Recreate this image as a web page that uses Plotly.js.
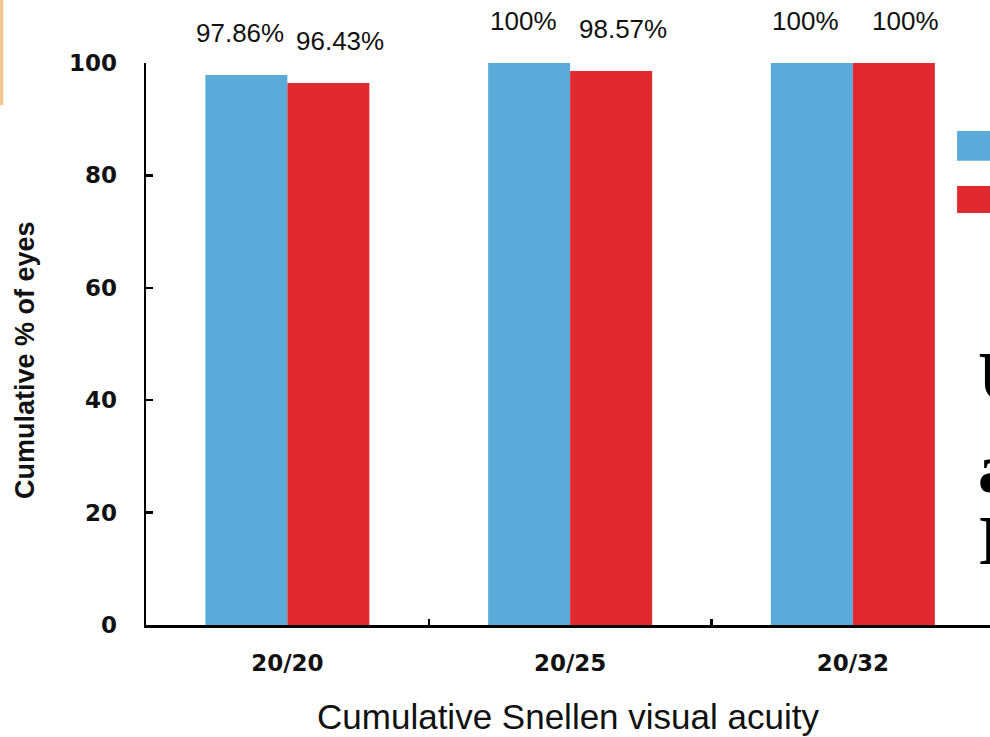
<!DOCTYPE html>
<html>
<head>
<meta charset="utf-8">
<script src="https://cdn.plot.ly/plotly-3.0.1.min.js"></script>
<style>html,body{margin:0;padding:0;background:#fff;}#chart{width:990px;height:737px;}</style>
</head>
<body>
<div id="chart"></div>
<script>
const categories = ["20/20", "20/25", "20/32"];
const seriesA = [97.86, 100, 100];
const seriesB = [96.43, 98.57, 100];
const labelsA = ["97.86%", "100%", "100%"];
const labelsB = ["96.43%", "98.57%", "100%"];
const yTicks = [0, 20, 40, 60, 80, 100];

const blue = "#5aabd9";
const red = "#e12a30";
const bargap = 0.42;
const off = (1 - bargap) / 4;

const traces = [
  {type: "bar", x: categories, y: seriesA, marker: {color: blue, line: {width: 0}}, showlegend: false, hoverinfo: "none"},
  {type: "bar", x: categories, y: seriesB, marker: {color: red, line: {width: 0}}, showlegend: false, hoverinfo: "none"}
];

const labelFont = {family: "Liberation Sans, Arial, sans-serif", size: 26, color: "#111"};
const annotations = [];
categories.forEach((c, i) => {
  annotations.push({x: i - off, y: seriesA[i], xref: "x", yref: "y", text: labelsA[i], showarrow: false,
    yanchor: "bottom", yshift: 25, xshift: -6, font: labelFont});
  annotations.push({x: i + off, y: seriesB[i], xref: "x", yref: "y", text: labelsB[i], showarrow: false,
    yanchor: "bottom", yshift: 25, xshift: 12, font: labelFont});
});
// y axis title
annotations.push({x: -0.1434, y: 0.4715, xref: "paper", yref: "paper", text: "Cumulative % of eyes",
  textangle: -90, showarrow: false, xanchor: "center", yanchor: "middle",
  font: {family: "Liberation Sans, Arial, sans-serif", size: 27, color: "#111", weight: "bold"}});
// cropped slide text on the right edge (cut off in the reference as well)
[["U", 0.443], ["a", 0.279], ["I", 0.151]].forEach(t => {
  annotations.push({x: 0.983, y: t[1], xref: "paper", yref: "paper", text: t[0], showarrow: false,
    xanchor: "left", yanchor: "middle", font: {family: "Liberation Serif, Times New Roman, serif", size: 70, color: "#000", weight: "bold"}});
});

const layout = {
  width: 990, height: 737,
  margin: {l: 146, r: 0, t: 63, b: 112},
  paper_bgcolor: "#fff", plot_bgcolor: "#fff",
  barmode: "group", bargap: bargap, bargroupgap: 0,
  xaxis: {
    type: "category", range: [-0.5, 2.485],
    showline: true, linecolor: "#000", linewidth: 2.5,
    ticks: "inside", tickson: "boundaries", ticklen: 6, tickwidth: 2.5, tickcolor: "#000",
    showgrid: false, zeroline: false,
    tickfont: {family: "DejaVu Sans, sans-serif", size: 23, color: "#111", weight: "bold"},
    ticklabelstandoff: 16,
    title: {text: "Cumulative Snellen visual acuity", standoff: 30,
      font: {family: "Liberation Sans, Arial, sans-serif", size: 35, color: "#111"}},
    automargin: false
  },
  yaxis: {
    range: [0, 100], tickvals: yTicks, ticktext: yTicks.map(String),
    showline: true, linecolor: "#000", linewidth: 2.5,
    ticks: "inside", ticklen: 7, tickwidth: 2.5, tickcolor: "#000",
    showgrid: false, zeroline: false,
    tickfont: {family: "DejaVu Sans, sans-serif", size: 23, color: "#111", weight: "bold"},
    ticklabelstandoff: 22,
    automargin: false
  },
  annotations: annotations,
  shapes: [
    {type: "rect", xref: "paper", yref: "paper", x0: 0.961, x1: 1.02, y0: 0.826, y1: 0.879, fillcolor: blue, line: {width: 0}},
    {type: "rect", xref: "paper", yref: "paper", x0: 0.961, x1: 1.02, y0: 0.733, y1: 0.781, fillcolor: red, line: {width: 0}},
    {type: "line", xref: "paper", yref: "paper", x0: -0.171, x1: -0.171, y0: 0.925, y1: 1.12, line: {color: "#f3c285", width: 3}}
  ]
};

Plotly.newPlot("chart", traces, layout, {displayModeBar: false, staticPlot: true});
</script>
</body>
</html>
